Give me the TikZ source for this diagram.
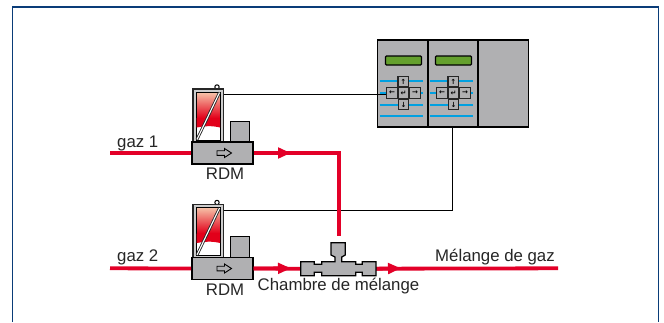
\documentclass[tikz,border=0pt]{standalone}
\usepackage{fontspec}
\setmainfont{Liberation Sans}
\newfontfamily\keyfont{DejaVu Sans Bold}
\usetikzlibrary{arrows.meta,calc}
\definecolor{frameblue}{RGB}{10,60,120}
\definecolor{pipered}{RGB}{227,0,40}
\definecolor{glassred}{RGB}{226,0,26}
\definecolor{devgray}{RGB}{176,176,178}
\definecolor{casegray}{RGB}{205,205,205}
\definecolor{lcdgreen}{RGB}{100,160,45}
\definecolor{keyblue}{RGB}{0,160,225}
\definecolor{salmon}{RGB}{246,190,165}
\tikzset{
  x=1pt,y=-1pt,
  frameline/.style={draw=frameblue,line width=1.3pt},
  pipe/.style={draw=pipered,line width=3.8pt},
  pipearrow/.style={pipe,-{Triangle[length=13pt,width=10.5pt]}},
  wire/.style={draw=black,line width=0.9pt},
  devbox/.style={draw=black,fill=devgray,line width=1.2pt,inner sep=0pt},
  body/.style={devbox,line width=1.5pt,minimum width=61pt,minimum height=22pt},
  lbl/.style={font=\fontsize{16.8}{17}\selectfont,inner sep=0pt,text=black!85},
  keybtn/.style={draw=black!85,fill=devgray,line width=1.2pt,minimum size=10.5pt,inner sep=0pt,font=\keyfont\fontsize{7}{7}\selectfont},
}
\newcommand{\controllerpanel}[2]{%
  \foreach \yy in {80.7,92.7,104.7,116.3}
    \draw[keyblue,line width=1.9pt] (#1+1.5,\yy) -- (#1+44.5,\yy);
  \node[draw=black,fill=lcdgreen,line width=1.2pt,rounded corners=1pt,inner sep=0pt,minimum width=36pt,minimum height=9pt] (#2lcd) at (#1+25.5,60.5) {};
  \node[keybtn] (#2up) at (#1+25.2,81.7) {↑};
  \node[keybtn] (#2lf) at (#1+14,93) {←};
  \node[keybtn] (#2ok) at (#1+25.5,93) {↵};
  \node[keybtn] (#2rt) at (#1+37,93) {→};
  \node[keybtn] (#2dn) at (#1+25.5,104.5) {↓};
}
\newcommand{\flowmeter}[2]{%
  \begin{scope}[yshift=-#1pt]
    \draw[black,line width=1pt,fill=white] (217,87) circle (2.2pt);
    \node[devbox,fill=casegray,draw=black!85,line width=1.5pt,minimum width=30.5pt,minimum height=53pt] (#2case) at (208,115.5) {};
    \node[draw=black,line width=0.9pt,fill=white,minimum width=24.5pt,minimum height=48pt,inner sep=0pt] (#2win) at (208.3,116) {};
    \foreach \i in {0,...,25} {
      \pgfmathsetmacro{\mixp}{\i*100/25}
      \fill[glassred!\mixp!salmon] (196.7,92.7+\i) rectangle (220,93.9+\i);
    }
    \fill[glassred] (196.7,118) -- (220,118) -- (220,127.5) .. controls (212,125.5) and (204,126) .. (196.7,127.5) -- cycle;
    \draw[black!85,line width=2.8pt] (197,139.5) -- (219.5,92.5);
    \draw[white,line width=1.1pt] (197,139.5) -- (219.5,92.5);
    \node[devbox,minimum width=18.5pt,minimum height=21pt] (#2aux) at (240,131.7) {};
    \node[body] (#2) at (222.3,153) {};
    \draw[black,line width=0.9pt,fill=devgray]
      (217,150.7) -- (224.5,150.7) -- (224.5,148.5) -- (231.5,153) -- (224.5,157.5) -- (224.5,155.3) -- (217,155.3) -- cycle;
  \end{scope}
}
\begin{document}
\begin{tikzpicture}
\useasboundingbox (0,0) rectangle (664,322);
\fill[white] (0,0) rectangle (664,322);
\draw[frameline] (12.5,322) -- (12.5,7) -- (658.5,7) -- (658.5,322);

% wires
\coordinate (w1s) at (222,94);
\coordinate (w2s) at (222,210);
\coordinate (ctlw) at (452.5,127);

% flowmeters
\flowmeter{0}{rdma}
\flowmeter{115.5}{rdmb}

% controller
\node[devbox,line width=1.4pt,minimum width=151pt,minimum height=87pt] (ctl) at (453,83.5) {};
\controllerpanel{378}{pa}
\controllerpanel{428}{pb}
\draw[black,line width=1.4pt] (428,40) -- (428,127) (478,40) -- (478,127);

\draw[wire] (rdmacase.east |- w1s) -- (palf.west |- w1s);
\draw[wire] (rdmbcase.east |- w2s) -- (ctlw |- w2s) -- (ctlw);

% mixer
\coordinate (g1) at (110,153);
\coordinate (g2) at (110,268.3);
\coordinate (a1) at (291,153);
\coordinate (a2) at (291,268.3);
\coordinate (a3) at (401,268.3);
\coordinate (elbow) at (339,153);
\coordinate (gend) at (558,268.3);
\node[inner sep=0pt,minimum width=14.3pt,minimum height=14pt] (mixtop) at (338.7,242.7) {};
\node[inner sep=0pt,minimum width=75pt,minimum height=14pt] (mixer) at (338.3,268.7) {};

\draw[pipe] (g1) -- (rdma.west);
\draw[pipe] (rdma.east) -- (elbow) -- (mixtop.north -| elbow);
\draw[pipearrow] (rdma.east) -- (a1);
\draw[pipe] (g2) -- (rdmb.west);
\draw[pipe] (rdmb.east) -- (mixer.west);
\draw[pipearrow] (rdmb.east) -- (a2);
\draw[pipe] (mixer.east) -- (gend);
\draw[pipearrow] (mixer.east) -- (a3);

\draw[devbox] (300.7,261.7) -- (314.3,261.7) -- (314.3,264.3) -- (321.7,264.3) -- (321.7,261.7)
  -- (335,261.7) -- (335,257) -- (331,255) -- (331,242.7) -- (345.3,242.7) -- (345.3,255) -- (341.7,257) -- (341.7,261.7)
  -- (355.7,261.7) -- (355.7,264.3) -- (362.3,264.3) -- (362.3,261.7) -- (376,261.7)
  -- (376,275.7) -- (362.3,275.7) -- (362.3,272.3) -- (355.7,272.3) -- (355.7,275.7)
  -- (321.7,275.7) -- (321.7,272.3) -- (314.3,272.3) -- (314.3,275.7) -- (300.7,275.7) -- cycle;

% labels
\node[lbl,anchor=base west] (t1) at (117,147.5) {gaz 1};
\node[lbl,anchor=base west] (t2) at (117,261) {gaz 2};
\node[lbl,anchor=base] (t3) at (225,179.5) {RDM};
\node[lbl,anchor=base] (t4) at (225,295) {RDM};
\node[lbl,anchor=base] (t5) at (338.5,290.5) {Chambre de mélange};
\node[lbl,anchor=base west] (t6) at (435,261) {Mélange de gaz};
\end{tikzpicture}
\end{document}
